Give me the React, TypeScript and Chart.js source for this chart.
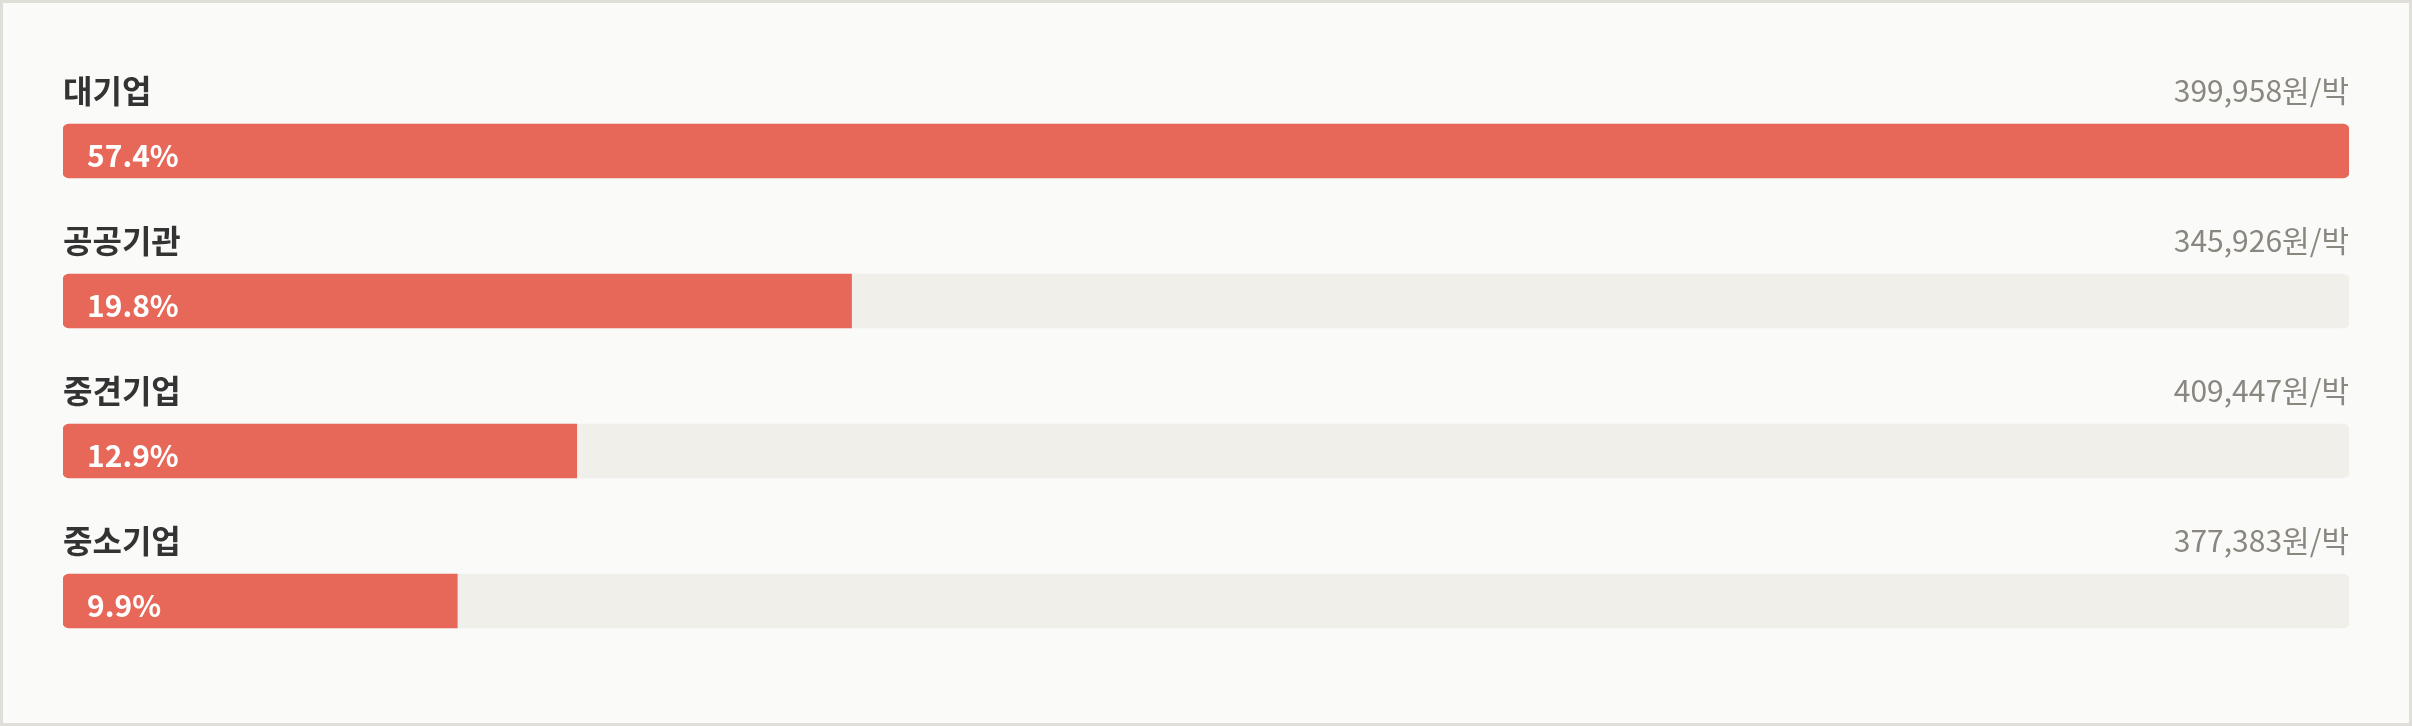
import React, { useEffect, useRef } from "react";
import { Chart, registerables } from "chart.js";

Chart.register(...registerables);

const categories = ["대기업", "공공기관", "중견기업", "중소기업"];
const shares = [57.4, 19.8, 12.9, 9.9];
const prices = [399958, 345926, 409447, 377383];
const priceUnit = "원/박";

const FONT = '"Noto Sans CJK KR", "Noto Sans", sans-serif';

const labelPlugin = {
  id: "rowLabels",
  afterDatasetsDraw(chart: any) {
    const { ctx, chartArea } = chart;
    const meta = chart.getDatasetMeta(0);
    ctx.save();
    meta.data.forEach((bar: any, i: number) => {
      const y = bar.y;
      // category label
      ctx.font = `bold 32px ${FONT}`;
      ctx.fillStyle = "#333333";
      ctx.textAlign = "left";
      ctx.textBaseline = "middle";
      ctx.fillText(categories[i], chartArea.left, y - 60);
      // price label
      ctx.font = `normal 30px ${FONT}`;
      ctx.fillStyle = "#8a8780";
      ctx.textAlign = "right";
      ctx.fillText(prices[i].toLocaleString("en-US") + priceUnit, chartArea.right, y - 60);
      // percentage inside bar
      ctx.font = `bold 30px ${FONT}`;
      ctx.fillStyle = "#ffffff";
      ctx.textAlign = "left";
      ctx.textBaseline = "alphabetic";
      ctx.fillText(shares[i].toFixed(1) + "%", bar.base + 24, y + 16);
    });
    ctx.restore();
  },
};

export default function App() {
  const canvasRef = useRef<HTMLCanvasElement | null>(null);

  useEffect(() => {
    document.body.style.margin = "0";
    const maxShare = Math.max(...shares);
    const chart = new Chart(canvasRef.current as HTMLCanvasElement, {
      type: "bar",
      data: {
        labels: categories,
        datasets: [
          {
            data: shares,
            backgroundColor: "#E76858",
            barThickness: 54,
            borderSkipped: false,
            borderRadius: (c: any) =>
              c.raw >= maxShare
                ? 6
                : { topLeft: 6, bottomLeft: 6, topRight: 0, bottomRight: 0 },
            order: 0,
          },
          {
            data: categories.map(() => maxShare),
            backgroundColor: "#F0EFE9",
            barThickness: 54,
            borderSkipped: false,
            borderRadius: 6,
            order: 1,
          },
        ],
      } as any,
      options: {
        indexAxis: "y",
        animation: false,
        responsive: false,
        devicePixelRatio: 1,
        datasets: { bar: { grouped: false } } as any,
        layout: { padding: { left: 60, right: 60, top: 73, bottom: 47 } },
        scales: {
          x: { display: false, min: 0, max: maxShare },
          y: { display: false },
        },
        plugins: {
          legend: { display: false },
          tooltip: { enabled: false },
        },
      } as any,
      plugins: [labelPlugin],
    });
    return () => chart.destroy();
  }, []);

  return (
    <div
      style={{
        position: "relative",
        width: 2412,
        height: 726,
        boxSizing: "border-box",
        border: "3px solid #DFDED8",
        background: "#FAFAF8",
      }}
    >
      <canvas ref={canvasRef} width={2406} height={720} style={{ display: "block" }} />
    </div>
  );
}
